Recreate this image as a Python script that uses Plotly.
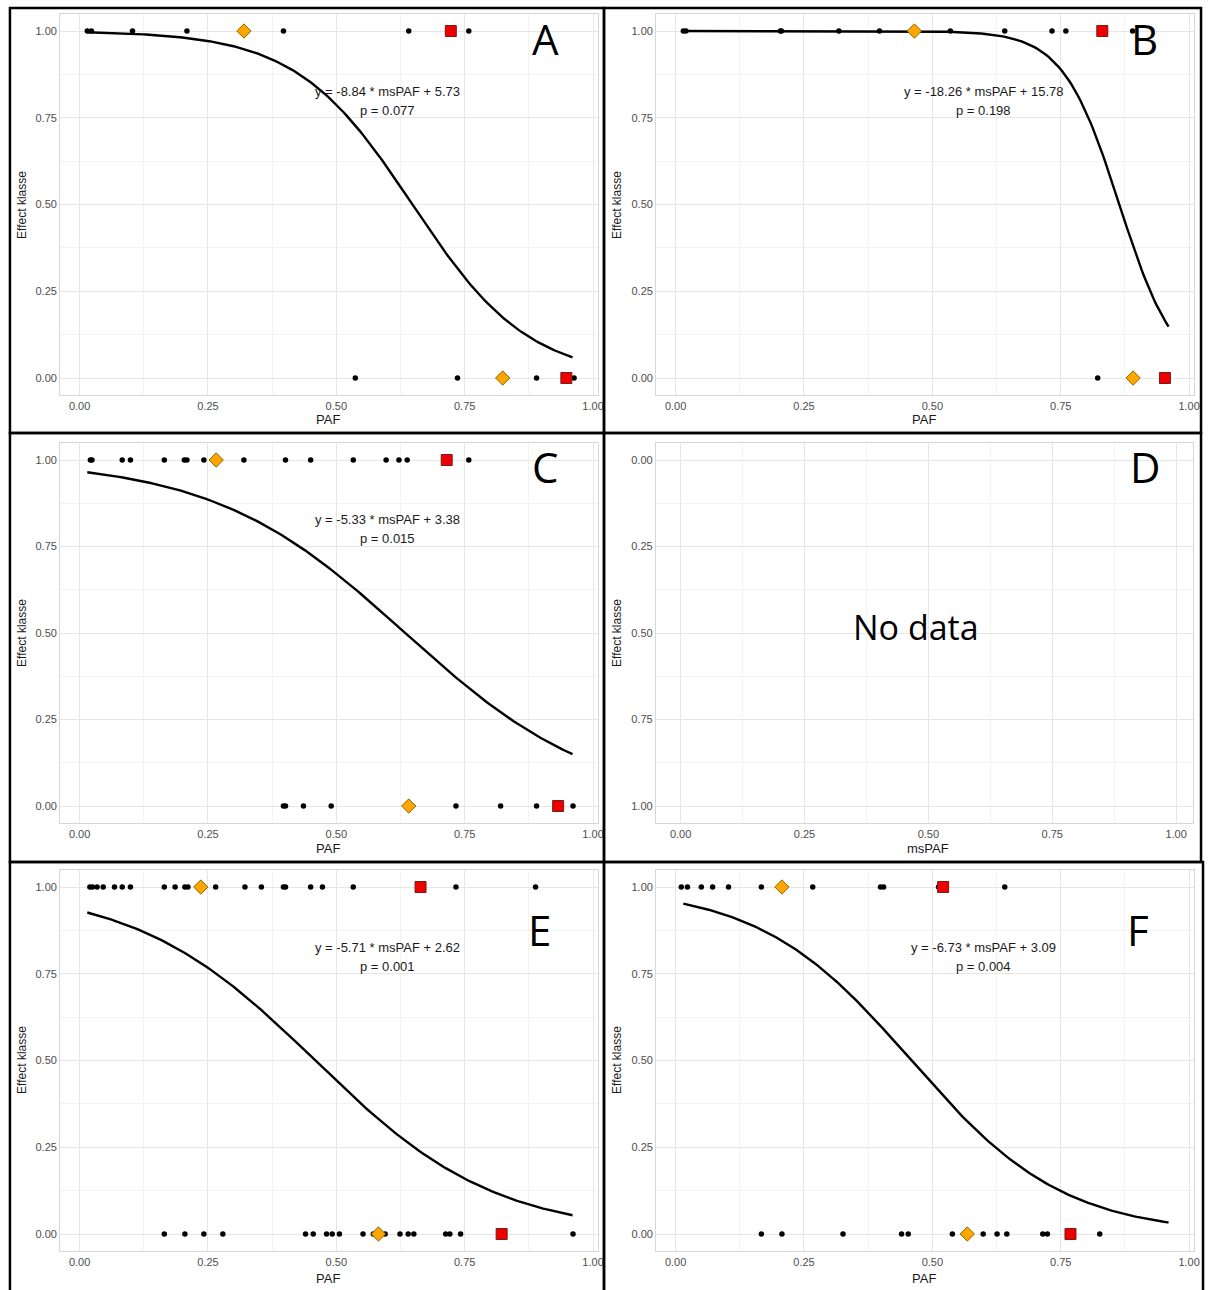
import numpy as np
import plotly.graph_objects as go

W, H = 1212, 1290

# ---------------- data ----------------
# panel A
a_x1 = [0.015, 0.023, 0.103, 0.209, 0.397, 0.641, 0.758]
a_x0 = [0.537, 0.736, 0.890, 0.963]
a_dia = [(0.320, 1), (0.824, 0)]
a_sq = [(0.723, 1), (0.948, 0)]
a_coef = (-8.84, 5.73)
a_p = "0.077"

# panel B
b_x1 = [0.015, 0.020, 0.204, 0.206, 0.318, 0.397, 0.535, 0.641, 0.733, 0.760, 0.890]
b_x0 = [0.822]
b_dia = [(0.465, 1), (0.891, 0)]
b_sq = [(0.831, 1), (0.953, 0)]
b_coef = (-18.26, 15.78)
b_p = "0.198"

# panel C
c_x1 = [0.021, 0.024, 0.083, 0.099, 0.165, 0.204, 0.209, 0.242, 0.320, 0.401, 0.450,
        0.533, 0.597, 0.622, 0.638, 0.758]
c_x0 = [0.397, 0.401, 0.436, 0.490, 0.733, 0.820, 0.890, 0.961]
c_dia = [(0.266, 1), (0.641, 0)]
c_sq = [(0.715, 1), (0.932, 0)]
c_coef = (-5.33, 3.38)
c_p = "0.015"

# panel E
e_x1 = [0.020, 0.025, 0.034, 0.046, 0.068, 0.083, 0.099, 0.165, 0.186, 0.205, 0.211,
        0.265, 0.322, 0.354, 0.397, 0.401, 0.450, 0.473, 0.533, 0.733, 0.888]
e_x0 = [0.165, 0.205, 0.242, 0.279, 0.440, 0.455, 0.481, 0.492, 0.506, 0.552, 0.572,
        0.595, 0.624, 0.640, 0.651, 0.713, 0.721, 0.742, 0.961]
e_dia = [(0.236, 1), (0.582, 0)]
e_sq = [(0.664, 1), (0.822, 0)]
e_coef = (-5.71, 2.62)
e_p = "0.001"

# panel F
f_x1 = [0.011, 0.023, 0.050, 0.072, 0.103, 0.167, 0.267, 0.399, 0.405, 0.512, 0.641]
f_x0 = [0.167, 0.207, 0.326, 0.440, 0.453, 0.539, 0.599, 0.626, 0.645, 0.715, 0.724, 0.826]
f_dia = [(0.207, 1), (0.568, 0)]
f_sq = [(0.521, 1), (0.769, 0)]
f_coef = (-6.73, 3.09)
f_p = "0.004"

curve_range = (0.015, 0.96)
tick_vals = [0, 0.25, 0.5, 0.75, 1.0]
tick_text = ["0.00", "0.25", "0.50", "0.75", "1.00"]

# ---------------- layout geometry (pixels) ----------------
# id: (px of x=0, px of x=1, px of y=0, px of y=1, xrange, yrange)
geom = {
    1: (80, 596, 378, 31, [-0.038, 1.01], [-0.05, 1.05]),
    2: (679, 1195, 378, 31, [-0.038, 1.01], [-0.05, 1.05]),
    3: (80, 596, 806, 460, [-0.038, 1.01], [-0.05, 1.05]),
    4: (684, 1182, 460, 806, [-0.05, 1.035], [1.05, -0.05]),
    5: (80, 596, 1234, 887, [-0.038, 1.01], [-0.05, 1.05]),
    6: (679, 1195, 1234, 887, [-0.038, 1.01], [-0.05, 1.05]),
}

fig = go.Figure()

tickfont = dict(family="Liberation Sans, Arial", size=11, color="#4D4D4D")
layout = dict(width=W, height=H, margin=dict(l=0, r=0, t=0, b=0),
              paper_bgcolor="white", plot_bgcolor="white", showlegend=False)

for i, (x0, x1, y0, y1, xr, yr) in geom.items():
    xd = sorted([(x0 + xr[0] * (x1 - x0)) / W, (x0 + xr[1] * (x1 - x0)) / W])
    py_a = y0 + yr[0] * (y1 - y0)
    py_b = y0 + yr[1] * (y1 - y0)
    yd = sorted([1 - py_a / H, 1 - py_b / H])
    s = "" if i == 1 else str(i)
    layout["xaxis" + s] = dict(domain=xd, range=xr, anchor="y" + s,
                               tickvals=tick_vals, ticktext=tick_text,
                               showgrid=True, gridcolor="#E6E6E6", gridwidth=1,
                               minor=dict(showgrid=True, dtick=0.125, tick0=0,
                                          gridcolor="#F3F3F3", gridwidth=1),
                               showline=True, mirror=True, linecolor="#D6D6D6", linewidth=1,
                               zeroline=False, ticks="", tickfont=tickfont)
    layout["yaxis" + s] = dict(domain=yd, range=yr, anchor="x" + s,
                               tickvals=tick_vals, ticktext=tick_text,
                               showgrid=True, gridcolor="#E6E6E6", gridwidth=1,
                               minor=dict(showgrid=True, dtick=0.125, tick0=0,
                                          gridcolor="#F3F3F3", gridwidth=1),
                               showline=True, mirror=True, linecolor="#D6D6D6", linewidth=1,
                               zeroline=False, ticks="", tickfont=tickfont)

fig.update_layout(**layout)


def add_panel(i, x1s, x0s, dia, sq, coef, p):
    s = "" if i == 1 else str(i)
    xa, ya = "x" + s, "y" + s
    fig.add_trace(go.Scatter(x=x1s + x0s, y=[1] * len(x1s) + [0] * len(x0s), mode="markers",
                             marker=dict(color="black", size=5.5), xaxis=xa, yaxis=ya))
    xs = np.linspace(curve_range[0], curve_range[1], 200)
    ys = 1 / (1 + np.exp(-(coef[0] * xs + coef[1])))
    fig.add_trace(go.Scatter(x=xs, y=ys, mode="lines", line=dict(color="black", width=2.4),
                             xaxis=xa, yaxis=ya))
    fig.add_trace(go.Scatter(x=[d[0] for d in dia], y=[d[1] for d in dia], mode="markers",
                             marker=dict(symbol="diamond", color="#FFA500", size=11,
                                         line=dict(color="#8A6A00", width=1)),
                             xaxis=xa, yaxis=ya))
    fig.add_trace(go.Scatter(x=[d[0] for d in sq], y=[d[1] for d in sq], mode="markers",
                             marker=dict(symbol="square", color="#EE0000", size=11,
                                         line=dict(color="#7A1A1A", width=1)),
                             xaxis=xa, yaxis=ya))
    eq = f"y = {coef[0]:.2f} * msPAF + {coef[1]:.2f}"
    fig.add_annotation(x=0.60, y=0.827, xref=xa, yref=ya, text=eq, showarrow=False,
                       xanchor="center", yanchor="middle",
                       font=dict(family="Liberation Sans, Arial", size=13, color="#1A1A1A"))
    fig.add_annotation(x=0.60, y=0.772, xref=xa, yref=ya, text=f"p = {p}", showarrow=False,
                       xanchor="center", yanchor="middle",
                       font=dict(family="Liberation Sans, Arial", size=13, color="#1A1A1A"))


add_panel(1, a_x1, a_x0, a_dia, a_sq, a_coef, a_p)
add_panel(2, b_x1, b_x0, b_dia, b_sq, b_coef, b_p)
add_panel(3, c_x1, c_x0, c_dia, c_sq, c_coef, c_p)
add_panel(5, e_x1, e_x0, e_dia, e_sq, e_coef, e_p)
add_panel(6, f_x1, f_x0, f_dia, f_sq, f_coef, f_p)

# empty trace for D so its axes render
fig.add_trace(go.Scatter(x=[], y=[], mode="markers", xaxis="x4", yaxis="y4"))


def paper_text(t, px, py, font, angle=0):
    fig.add_annotation(x=px / W, y=1 - py / H, xref="paper", yref="paper", text=t,
                       showarrow=False, xanchor="center", yanchor="middle",
                       textangle=angle, font=font)


letter_font = dict(family="Open Sans, Liberation Sans", size=42, color="black")
letters = [("A", 548, 39), ("B", 1150, 39), ("C", 548, 467),
           ("D", 1151, 467), ("E", 542, 929), ("F", 1144, 929)]
for t, px, py in letters:
    paper_text(t, px, py, letter_font)

paper_text("No data", 921, 627, dict(family="Open Sans, Liberation Sans", size=34, color="black"))

title_font = dict(family="Liberation Sans, Arial", size=13, color="#1A1A1A")
xtitles = [("PAF", 330, 419), ("PAF", 929, 419), ("PAF", 330, 848),
           ("msPAF", 933, 848), ("PAF", 330, 1278), ("PAF", 929, 1278)]
for t, px, py in xtitles:
    paper_text(t, px, py, title_font)
ytitles = [(22, 205), (620, 205), (22, 633), (620, 633), (22, 1060), (620, 1060)]
for px, py in ytitles:
    paper_text("Effect klasse", px, py,
               dict(family="Liberation Sans, Arial", size=12, color="#1A1A1A"), angle=-90)

# panel frames
frames = [(10, 8, 607, 433), (607, 8, 1207, 433), (10, 433, 607, 862),
          (607, 433, 1207, 862), (10, 862, 607, 1292), (607, 862, 1209, 1292)]
for l, t, r, b in frames:
    fig.add_shape(type="rect", xref="paper", yref="paper", x0=l / W, x1=r / W,
                  y0=1 - b / H, y1=1 - t / H, line=dict(color="black", width=2.5),
                  fillcolor="rgba(0,0,0,0)", layer="above")

fig.write_html("out.html", config={"displayModeBar": False},
               post_script="document.body.style.margin='0';document.body.style.overflow='hidden';")
